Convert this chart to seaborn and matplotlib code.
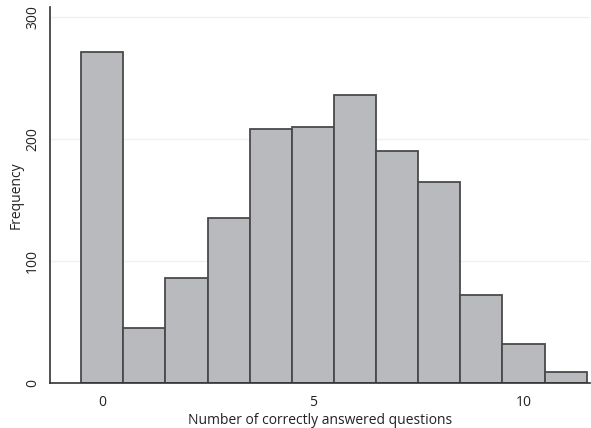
import numpy as np
import pandas as pd
import seaborn as sns
import matplotlib.pyplot as plt

# correctly answered questions (0-11) and their frequencies
n_correct = [0, 1, 2, 3, 4, 5, 6, 7, 8, 9, 10, 11]
frequency = [271, 45, 86, 135, 208, 210, 236, 190, 165, 72, 32, 9]

df = pd.DataFrame({'n_correct': n_correct, 'frequency': frequency})

sns.set_style('white')
plt.rcParams['font.family'] = ['Open Sans', 'DejaVu Sans']

fig = plt.figure(figsize=(5.91, 4.28), dpi=100)
ax = fig.add_axes([50 / 591, 1 - 383 / 428, 540 / 591, 376 / 428])

sns.histplot(data=df, x='n_correct', weights='frequency', discrete=True,
             color='#b9babe', edgecolor='#4a4a4a', linewidth=1.3, alpha=1, ax=ax)

ax.set_xlim(-1.24, 11.58)
ax.set_ylim(0, 308)
ax.set_xticks([0, 5, 10])
ax.set_yticks([0, 100, 200, 300])
ax.set_yticklabels(['0', '100', '200', '300'], rotation=90, va='center')
ax.yaxis.grid(True, color='#f0f0f0', linewidth=1)
ax.set_axisbelow(True)
for s in ['top', 'right']:
    ax.spines[s].set_visible(False)
for s in ['left', 'bottom']:
    ax.spines[s].set_color('#333333')
    ax.spines[s].set_linewidth(1.2)
ax.tick_params(axis='both', direction='out', length=5, width=1, color='#333333',
               labelsize=10, labelcolor='#222222', pad=4)
ax.tick_params(axis='y', pad=2)
ax.set_xlabel('Number of correctly answered questions', fontsize=10, color='#222222', labelpad=2)
ax.set_ylabel('Frequency', fontsize=10, color='#222222', labelpad=1)

fig.savefig('out.png', dpi=100)
